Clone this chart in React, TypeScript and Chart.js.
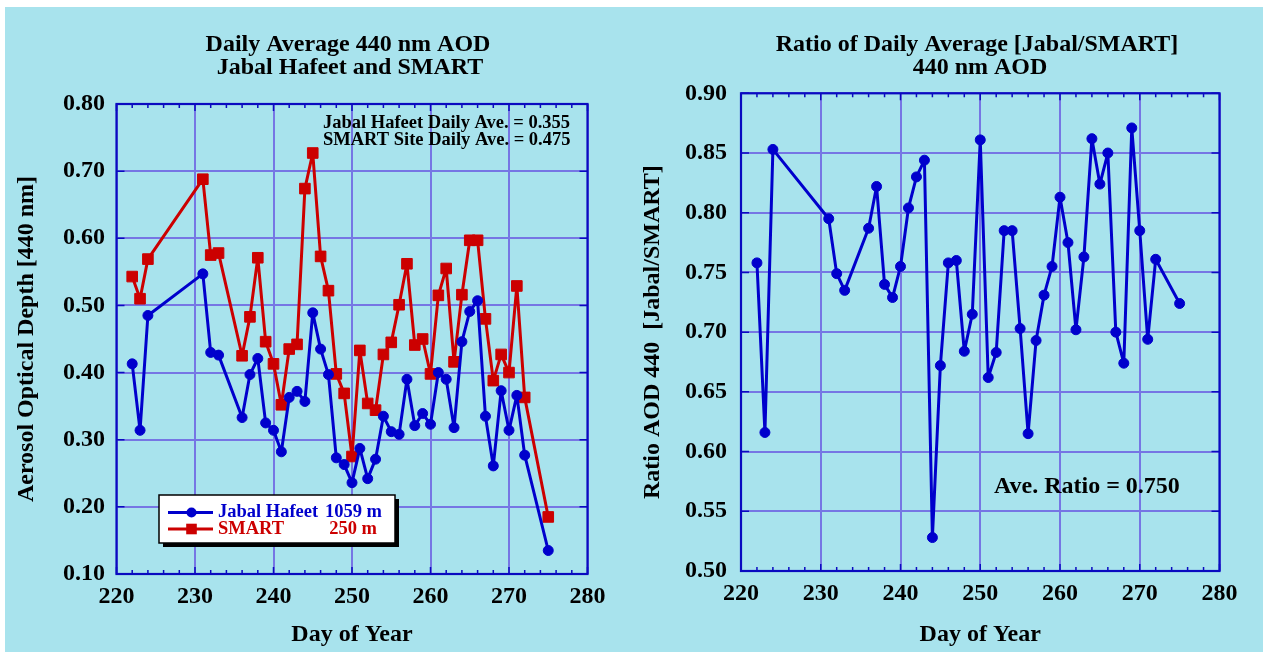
import { useEffect, useRef } from "react";
import { Chart, registerables } from "chart.js";

Chart.register(...registerables);

// Day of year for each daily average
const DAYS = [
  222, 223, 224, 231, 232, 233, 236, 237, 238, 239, 240, 241, 242, 243, 244,
  245, 246, 247, 248, 249, 250, 251, 252, 253, 254, 255, 256, 257, 258, 259,
  260, 261, 262, 263, 264, 265, 266, 267, 268, 269, 270, 271, 272, 275,
];

// Daily average 440 nm AOD, Jabal Hafeet (1059 m)
const JABAL_AOD = [
  0.413, 0.314, 0.485, 0.547, 0.43, 0.426, 0.333, 0.397, 0.421, 0.325, 0.314,
  0.282, 0.363, 0.372, 0.357, 0.489, 0.435, 0.397, 0.273, 0.263, 0.236, 0.287,
  0.242, 0.271, 0.335, 0.312, 0.308, 0.39, 0.321, 0.339, 0.323, 0.4, 0.39,
  0.318, 0.446, 0.491, 0.507, 0.335, 0.261, 0.373, 0.314, 0.366, 0.277, 0.135,
];

// Daily average 440 nm AOD, SMART site (250 m)
const SMART_AOD = [
  0.543, 0.51, 0.569, 0.688, 0.575, 0.578, 0.425, 0.483, 0.571, 0.446, 0.413,
  0.352, 0.435, 0.442, 0.674, 0.727, 0.573, 0.522, 0.398, 0.369, 0.275, 0.433,
  0.354, 0.344, 0.427, 0.445, 0.501, 0.562, 0.441, 0.45, 0.398, 0.515, 0.555,
  0.416, 0.516, 0.597, 0.597, 0.48, 0.388, 0.427, 0.4, 0.529, 0.363, 0.185,
];

// Ratio Jabal / SMART of the daily averages
const RATIO = [
  0.758, 0.616, 0.853, 0.795, 0.749, 0.735, 0.787, 0.822, 0.74, 0.729, 0.755,
  0.804, 0.83, 0.844, 0.528, 0.672, 0.758, 0.76, 0.684, 0.715, 0.861, 0.662,
  0.683, 0.785, 0.785, 0.703, 0.615, 0.693, 0.731, 0.755, 0.813, 0.775, 0.702,
  0.763, 0.862, 0.824, 0.85, 0.7, 0.674, 0.871, 0.785, 0.694, 0.761, 0.724,
];

const SITE_NAMES = ["Jabal Hafeet", "SMART"];
const SITE_ELEVATIONS = ["1059 m", "250 m"];
const SITE_AVERAGE_TEXT = [
  "Jabal Hafeet Daily Ave. = 0.355",
  "SMART Site Daily Ave. = 0.475",
];
const RATIO_AVERAGE_TEXT = "Ave. Ratio = 0.750";

const DAY_RANGE = [220, 280];
const AOD_RANGE = [0.1, 0.8];
const RATIO_RANGE = [0.5, 0.9];

const SERIF = "'Liberation Serif', 'Times New Roman', Times, serif";
const MAIN_SIZE = 24;
const SMALL_SIZE = 18.5;
const BLUE = "#0000cc";
const RED = "#cc0000";
const GRID = "rgb(118,118,228)";
const FRAME = "#0a0ac0";
const BG = "rgb(168,227,237)";

type Label = { text: string; x: number; y: number; size: number; align?: CanvasTextAlign; color?: string };

function textPlugin(labels: Label[]) {
  return {
    id: "figureText",
    afterDatasetsDraw(chart: any) {
      const ctx = chart.ctx as CanvasRenderingContext2D;
      ctx.save();
      ctx.textBaseline = "middle";
      for (const l of labels) {
        ctx.font = `bold ${l.size}px ${SERIF}`;
        ctx.fillStyle = l.color || "#000";
        ctx.textAlign = l.align || "center";
        ctx.fillText(l.text, l.x, l.y);
      }
      ctx.restore();
    },
  };
}

// plot frame with inward tick marks (every 2 days on x, every major step on y)
const framePlugin = {
  id: "frameTicks",
  beforeDatasetsDraw(chart: any) {
    const ctx = chart.ctx as CanvasRenderingContext2D;
    const a = chart.chartArea;
    const xs = chart.scales.x;
    const ys = chart.scales.y;
    ctx.save();
    ctx.strokeStyle = FRAME;
    ctx.lineWidth = 1.5;
    ctx.beginPath();
    for (let d = xs.min; d <= xs.max; d += 2) {
      const px = xs.getPixelForValue(d);
      const len = d % 10 === 0 ? 7 : 4;
      ctx.moveTo(px, a.top);
      ctx.lineTo(px, a.top + len);
      ctx.moveTo(px, a.bottom);
      ctx.lineTo(px, a.bottom - len);
    }
    for (const t of ys.ticks) {
      const py = ys.getPixelForValue(t.value);
      ctx.moveTo(a.left, py);
      ctx.lineTo(a.left + 8, py);
      ctx.moveTo(a.right, py);
      ctx.lineTo(a.right - 8, py);
    }
    ctx.stroke();
    ctx.lineWidth = 2.2;
    ctx.strokeRect(a.left, a.top, a.right - a.left, a.bottom - a.top);
    ctx.restore();
  },
};

const legendPlugin = {
  id: "siteLegend",
  afterDraw(chart: any) {
    const ctx = chart.ctx as CanvasRenderingContext2D;
    const box = { x: 159, y: 495, w: 236, h: 48 };
    ctx.save();
    ctx.fillStyle = "#000";
    ctx.fillRect(box.x + 4, box.y + 4, box.w, box.h);
    ctx.fillStyle = "#fff";
    ctx.fillRect(box.x, box.y, box.w, box.h);
    ctx.strokeStyle = "#000";
    ctx.lineWidth = 1.5;
    ctx.strokeRect(box.x, box.y, box.w, box.h);
    const rows = [
      { y: 512.5, color: BLUE, right: 382 },
      { y: 529, color: RED, right: 377 },
    ];
    rows.forEach((r, i) => {
      const ds = chart.data.datasets[i];
      ctx.strokeStyle = r.color;
      ctx.fillStyle = r.color;
      ctx.lineWidth = 3;
      ctx.beginPath();
      ctx.moveTo(168, r.y);
      ctx.lineTo(213, r.y);
      ctx.stroke();
      if (ds.pointStyle === "rect") {
        ctx.fillRect(191.5 - 5.3, r.y - 5.3, 10.6, 10.6);
      } else {
        ctx.beginPath();
        ctx.arc(191.5, r.y, 5, 0, Math.PI * 2);
        ctx.fill();
      }
      ctx.font = `bold ${SMALL_SIZE}px ${SERIF}`;
      ctx.textBaseline = "middle";
      ctx.textAlign = "left";
      ctx.fillText(ds.label, 218, r.y);
      ctx.textAlign = "right";
      ctx.fillText(SITE_ELEVATIONS[i], r.right, r.y);
    });
    ctx.restore();
  },
};

function baseOptions(
  yRange: number[],
  yStep: number,
  yTitle: string,
  dims: { top: number; right: number; yWidth: number; xHeight: number; yLabelPad: number; yTitlePad: number; xLabelPad: number }
): any {
  const tickFont = { family: SERIF, size: MAIN_SIZE, weight: "bold" as const, lineHeight: 1.2 };
  return {
    responsive: false,
    animation: false,
    events: [],
    layout: { padding: { top: dims.top, right: dims.right, bottom: 0, left: 0 } },
    plugins: { legend: { display: false }, title: { display: false }, tooltip: { enabled: false } },
    elements: { line: { borderJoinStyle: "round", borderCapStyle: "round" } },
    scales: {
      x: {
        type: "linear",
        min: DAY_RANGE[0],
        max: DAY_RANGE[1],
        afterFit: (s: any) => {
          s.height = dims.xHeight;
        },
        ticks: { stepSize: 10, color: "#000", font: tickFont, padding: dims.xLabelPad, maxRotation: 0 },
        grid: { color: GRID, lineWidth: 2, drawTicks: false },
        border: { display: false },
        title: { display: true, text: "Day of Year", color: "#000", font: tickFont, padding: { top: 0, bottom: 3 } },
      },
      y: {
        type: "linear",
        min: yRange[0],
        max: yRange[1],
        afterFit: (s: any) => {
          s.width = dims.yWidth;
        },
        ticks: {
          stepSize: yStep,
          color: "#000",
          font: tickFont,
          padding: dims.yLabelPad,
          callback: (v: any) => Number(v).toFixed(2),
        },
        grid: { color: GRID, lineWidth: 2, drawTicks: false },
        border: { display: false },
        title: { display: true, text: yTitle, color: "#000", font: tickFont, padding: { top: dims.yTitlePad, bottom: 0 } },
      },
    },
  };
}

function AodChart() {
  const ref = useRef<HTMLCanvasElement>(null);
  useEffect(() => {
    const chart = new Chart(ref.current!, {
      type: "line",
      data: {
        datasets: [
          {
            label: SITE_NAMES[0],
            data: DAYS.map((d, i) => ({ x: d, y: JABAL_AOD[i] })),
            borderColor: BLUE,
            backgroundColor: BLUE,
            borderWidth: 3,
            pointStyle: "circle",
            pointRadius: 5,
            pointBorderWidth: 1,
            tension: 0,
          },
          {
            label: SITE_NAMES[1],
            data: DAYS.map((d, i) => ({ x: d, y: SMART_AOD[i] })),
            borderColor: RED,
            backgroundColor: RED,
            borderWidth: 3,
            pointStyle: "rect",
            pointRadius: 7.5,
            pointBorderWidth: 1,
            tension: 0,
          },
        ],
      },
      options: baseOptions(AOD_RANGE, 0.1, "Aerosol Optical Depth [440 nm]", {
        top: 104,
        right: 44.5,
        yWidth: 116.5,
        xHeight: 78,
        yLabelPad: 11.5,
        yTitlePad: 12,
        xLabelPad: 8,
      }),
      plugins: [
        framePlugin,
        textPlugin([
          { text: "Daily Average 440 nm AOD", x: 348, y: 45, size: MAIN_SIZE },
          { text: "Jabal Hafeet and SMART", x: 350, y: 68, size: MAIN_SIZE },
          { text: SITE_AVERAGE_TEXT[0], x: 323, y: 123, size: SMALL_SIZE, align: "left" },
          { text: SITE_AVERAGE_TEXT[1], x: 323, y: 140.5, size: SMALL_SIZE, align: "left" },
        ]),
        legendPlugin,
      ],
    });
    return () => chart.destroy();
  }, []);
  return <canvas ref={ref} width={632} height={652} style={{ position: "absolute", left: 0, top: 0 }} />;
}

function RatioChart() {
  const ref = useRef<HTMLCanvasElement>(null);
  useEffect(() => {
    const chart = new Chart(ref.current!, {
      type: "line",
      data: {
        datasets: [
          {
            label: "Jabal/SMART",
            data: DAYS.map((d, i) => ({ x: d, y: RATIO[i] })),
            borderColor: BLUE,
            backgroundColor: BLUE,
            borderWidth: 3,
            pointStyle: "circle",
            pointRadius: 5,
            pointBorderWidth: 1,
            tension: 0,
          },
        ],
      },
      options: baseOptions(RATIO_RANGE, 0.05, "Ratio AOD 440  [Jabal/SMART]", {
        top: 93.3,
        right: 43.5,
        yWidth: 109,
        xHeight: 81,
        yLabelPad: 14,
        yTitlePad: 6,
        xLabelPad: 8,
      }),
      plugins: [
        framePlugin,
        textPlugin([
          { text: "Ratio of Daily Average [Jabal/SMART]", x: 345, y: 45, size: MAIN_SIZE },
          { text: "440 nm AOD", x: 348, y: 68, size: MAIN_SIZE },
          { text: RATIO_AVERAGE_TEXT, x: 362, y: 487, size: MAIN_SIZE, align: "left" },
        ]),
      ],
    });
    return () => chart.destroy();
  }, []);
  return <canvas ref={ref} width={631} height={652} style={{ position: "absolute", left: 632, top: 0 }} />;
}

export default function App() {
  return (
    <div style={{ position: "absolute", left: 0, top: 0, width: 1263, height: 652, background: "#fff", overflow: "hidden" }}>
      <div style={{ position: "absolute", left: 5, top: 7, right: 0, bottom: 0, background: BG }} />
      <AodChart />
      <RatioChart />
    </div>
  );
}
